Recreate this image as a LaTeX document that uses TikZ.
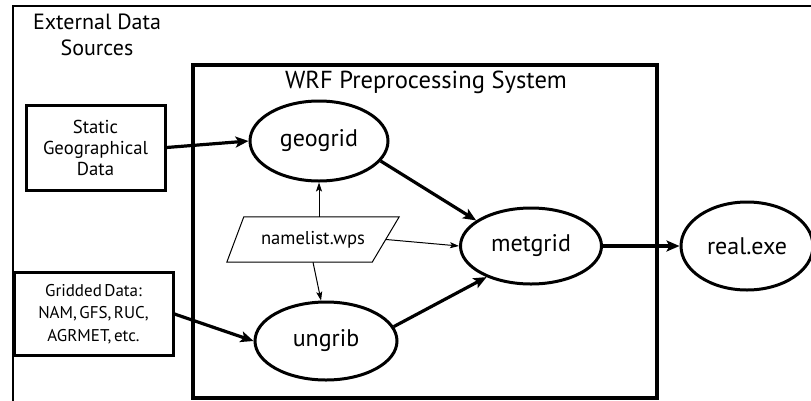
\documentclass[tikz,border=0pt]{standalone}
\usepackage{fontspec}
\setmainfont{PT Sans}
\usetikzlibrary{shapes.geometric,arrows.meta,calc}
\newcommand\tightspace{\spaceskip=2.5pt plus 0.5pt\relax}
\begin{document}
\begin{tikzpicture}[x=1pt,y=-1pt,
  proc/.style={ellipse,draw,line width=3pt,inner sep=0pt,font=\fontsize{24}{28}\selectfont},
  srcbox/.style={rectangle,draw,line width=3pt,inner sep=0pt,align=center},
  thickarrow/.style={line width=3.2pt,-{Stealth[length=13pt,width=11pt,inset=3pt]}},
  thinarrow/.style={line width=1pt,-{Stealth[length=9pt,width=6pt,inset=2pt]}}]
\clip (0,0) rectangle (811,400);
\fill[white] (0,0) rectangle (811,400);
% outer frame
\draw[line width=2.4pt] (13,410) -- (13,6) -- (820,6);
\node[align=center,font=\fontsize{22}{26}\selectfont] (ext) at (97,35) {External Data\\Sources};
% WRF box
\draw[line width=3.5pt] (193,65) rectangle (657,398);
\node[font=\fontsize{24.6}{28}\selectfont] (wrf) at (426,82) {WRF Preprocessing System};
% sources
\node[srcbox,minimum width=139pt,minimum height=85pt,font=\fontsize{18.7}{21}\selectfont] (static) at (95.5,147.5) {Static\\Geographical\\Data};
\node[srcbox,minimum width=159pt,minimum height=83pt,font=\fontsize{17}{22.5}\selectfont\tightspace] (grid) at (93.5,314) {Gridded Data:\\NAM, GFS, RUC,\\AGRMET, etc.};
% processes
\node[proc,minimum width=138pt,minimum height=80pt] (geogrid) at (319,141) {geogrid};
\node[proc,minimum width=142pt,minimum height=78pt] (ungrib) at (326,341) {ungrib};
\node[proc,minimum width=141pt,minimum height=76pt] (metgrid) at (531,246) {metgrid};
\node[proc,minimum width=132pt,minimum height=88pt] (real) at (747,246) {real.exe};
% namelist
\node[rectangle,minimum width=172pt,minimum height=45pt,inner sep=0pt,font=\fontsize{18.6}{21}\selectfont] (nl) at (313,239.5) {namelist.wps};
\draw[line width=1pt] ($(nl.north west)+(17,0)$) -- (nl.north east) -- ($(nl.south east)+(-27,0)$) -- (nl.south west) -- cycle;
% arrows
\draw[thickarrow] (static.east) -- (geogrid.west);
\draw[thickarrow] (grid.east) -- (ungrib.west);
\draw[thickarrow] (geogrid.-18) -- (metgrid.155);
\draw[thickarrow] (ungrib.12) -- (metgrid.-145);
\draw[thickarrow] (metgrid.east) -- (real.west);
\draw[thinarrow] (nl.north -| geogrid.south) -- (geogrid.south);
\draw[thinarrow] (nl.south) -- (ungrib.97);
\draw[thinarrow] ($(nl.east)+(-13,0)$) -- (metgrid.west);
\end{tikzpicture}
\end{document}
